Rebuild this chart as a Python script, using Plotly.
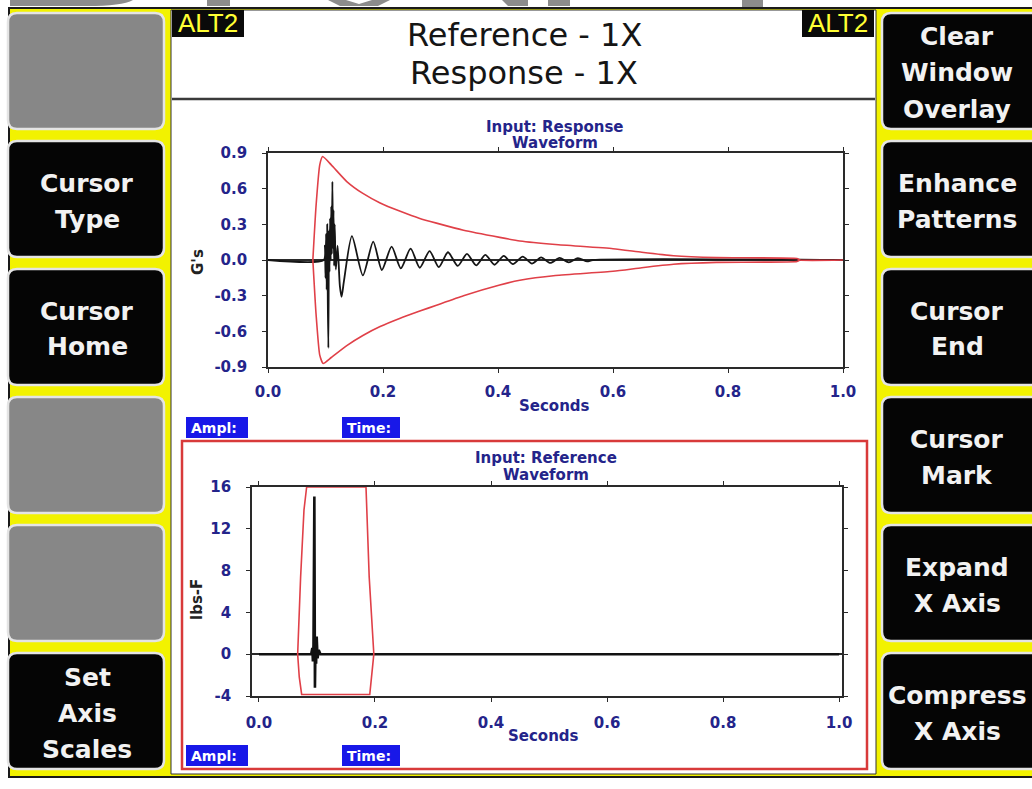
import plotly.graph_objects as go

W, H = 1032, 789

# ---------------- data ----------------
x_tick_vals = [0.0, 0.2, 0.4, 0.6, 0.8, 1.0]
x_tick_text = ["0.0", "0.2", "0.4", "0.6", "0.8", "1.0"]
top_y_tick_vals = [-0.9, -0.6, -0.3, 0.0, 0.3, 0.6, 0.9]
top_y_tick_text = ["-0.9", "-0.6", "-0.3", "0.0", "0.3", "0.6", "0.9"]
bot_y_tick_vals = [-4, 0, 4, 8, 12, 16]
bot_y_tick_text = ["-4", "0", "4", "8", "12", "16"]

# Response waveform (G's vs seconds)
resp_t = [0.0, 0.097, 0.099, 0.100, 0.101, 0.102, 0.103, 0.104, 0.105, 0.106,
          0.107, 0.108, 0.109, 0.110, 0.111, 0.112, 0.113, 0.114, 0.115, 0.116,
          0.118, 0.121, 0.125, 0.128, 0.132, 0.146, 0.165, 0.183, 0.198, 0.215,
          0.231, 0.248, 0.264, 0.281, 0.297, 0.313, 0.330, 0.346, 0.362, 0.378,
          0.394, 0.410, 0.426, 0.443, 0.459, 0.475, 0.491, 0.507, 0.523, 0.539,
          0.555, 0.565, 1.0]
resp_v = [0.0, 0.0, 0.12, -0.15, 0.22, -0.25, 0.30, -0.35, -0.74, 0.25,
          -0.10, 0.35, 0.0, 0.45, 0.05, 0.66, 0.10, 0.42, -0.05, 0.30,
          -0.08, 0.12, -0.22, -0.31, -0.18, 0.20, -0.13, 0.154, -0.084, 0.112,
          -0.07, 0.095, -0.065, 0.075, -0.06, 0.065, -0.05, 0.052, -0.045, 0.043,
          -0.04, 0.035, -0.035, 0.028, -0.03, 0.022, -0.025, 0.018, -0.02, 0.015,
          -0.012, 0.0, 0.0]

# Response envelope (red)
env_up_t = [0.078, 0.0835, 0.090, 0.095, 0.110, 0.137, 0.165, 0.195, 0.230, 0.264,
            0.293, 0.340, 0.403, 0.438, 0.500, 0.600, 0.650, 0.705, 0.780, 0.920,
            0.925, 1.0]
env_up_v = [0.0, 0.45, 0.80, 0.87, 0.80, 0.66, 0.56, 0.48, 0.41, 0.35,
            0.31, 0.25, 0.19, 0.16, 0.13, 0.095, 0.065, 0.036, 0.02, 0.012,
            0.0, 0.0]
env_lo_t = [0.078, 0.0835, 0.090, 0.096, 0.110, 0.137, 0.165, 0.195, 0.230, 0.264,
            0.293, 0.340, 0.403, 0.438, 0.500, 0.600, 0.650, 0.705, 0.780, 0.920,
            0.925]
env_lo_v = [0.0, -0.45, -0.80, -0.87, -0.82, -0.72, -0.635, -0.56, -0.49, -0.43,
            -0.38, -0.30, -0.21, -0.17, -0.13, -0.095, -0.065, -0.036, -0.02, -0.012,
            0.0]

# Reference waveform (lbs-F vs seconds)
ref_t = [0.0, 0.090, 0.092, 0.093, 0.094, 0.0955, 0.0965, 0.0975, 0.0985,
         0.0995, 0.101, 0.103, 0.106, 1.0]
ref_v = [0.0, 0.0, 0.6, -0.7, 0.9, 15.1, -3.2, 1.2, -0.9,
         1.7, -0.4, 0.4, 0.0, 0.0]

# Reference envelope (red)
ref_env_t = [0.0667, 0.0718, 0.0776, 0.0822, 0.1845, 0.190, 0.198, 0.191,
             0.0736, 0.0695, 0.0667]
ref_env_v = [0.0, 7.4, 13.8, 16.0, 16.0, 7.4, 0.0, -3.85,
             -3.85, -2.2, 0.0]

left_buttons = [[], ["Cursor", "Type"], ["Cursor", "Home"], [], [],
                ["Set", "Axis", "Scales"]]
right_buttons = [["Clear", "Window", "Overlay"], ["Enhance", "Patterns"],
                 ["Cursor", "End"], ["Cursor", "Mark"], ["Expand", "X Axis"],
                 ["Compress", "X Axis"]]

# ---------------- helpers ----------------
NAVY = "#24248a"
RED = "#e04048"
YELLOW = "#f2f200"


def px(x):
    return x / W


def py(y):
    return 1 - y / H


def rrect(x0, y0, x1, y1, r, fill, line, lw):
    p = (f"M {px(x0 + r)},{py(y0)} L {px(x1 - r)},{py(y0)} "
         f"Q {px(x1)},{py(y0)} {px(x1)},{py(y0 + r)} "
         f"L {px(x1)},{py(y1 - r)} Q {px(x1)},{py(y1)} {px(x1 - r)},{py(y1)} "
         f"L {px(x0 + r)},{py(y1)} Q {px(x0)},{py(y1)} {px(x0)},{py(y1 - r)} "
         f"L {px(x0)},{py(y0 + r)} Q {px(x0)},{py(y0)} {px(x0 + r)},{py(y0)} Z")
    return dict(type="path", xref="paper", yref="paper", path=p,
                fillcolor=fill, line=dict(color=line, width=lw), layer="below")


def rect(x0, y0, x1, y1, fill, line=None, lw=0, layer="below"):
    return dict(type="rect", xref="paper", yref="paper",
                x0=px(x0), x1=px(x1), y0=py(y1), y1=py(y0),
                fillcolor=fill,
                line=dict(color=line or fill, width=lw), layer=layer)


def poly(pts, fill):
    p = "M " + " L ".join(f"{px(a)},{py(b)}" for a, b in pts) + " Z"
    return dict(type="path", xref="paper", yref="paper", path=p,
                fillcolor=fill, line=dict(width=0), layer="below")


def ann(text, x, y, size, color, bold=False, family="DejaVu Sans",
        xanchor="center", angle=0):
    return dict(text=text, x=px(x), y=py(y), xref="paper", yref="paper",
                xanchor=xanchor, yanchor="middle", showarrow=False,
                textangle=angle,
                font=dict(family=family, size=size, color=color,
                          weight="bold" if bold else "normal"))


# ---------------- figure ----------------
fig = go.Figure()

fig.add_trace(go.Scatter(x=resp_t, y=resp_v, mode="lines",
                         line=dict(color="#151515", width=1.8, shape="spline",
                                   smoothing=0.7),
                         xaxis="x", yaxis="y", hoverinfo="skip"))
fig.add_trace(go.Scatter(x=env_up_t, y=env_up_v, mode="lines",
                         line=dict(color=RED, width=1.6, shape="spline",
                                   smoothing=0.5),
                         xaxis="x", yaxis="y", hoverinfo="skip"))
fig.add_trace(go.Scatter(x=env_lo_t, y=env_lo_v, mode="lines",
                         line=dict(color=RED, width=1.6, shape="spline",
                                   smoothing=0.5),
                         xaxis="x", yaxis="y", hoverinfo="skip"))
fig.add_trace(go.Scatter(x=ref_t, y=ref_v, mode="lines",
                         line=dict(color="#111", width=2.6),
                         xaxis="x2", yaxis="y2", hoverinfo="skip"))
fig.add_trace(go.Scatter(x=ref_env_t, y=ref_env_v, mode="lines",
                         line=dict(color=RED, width=1.6),
                         xaxis="x2", yaxis="y2", hoverinfo="skip"))

tickfont = dict(family="DejaVu Sans", size=15, color=NAVY, weight="bold")
common = dict(showline=True, linecolor="#2a2a2a", linewidth=1.6,
              mirror="allticks", ticks="outside", ticklen=4,
              tickcolor="#2a2a2a", tickwidth=1.3, showgrid=False,
              tickfont=tickfont, automargin=False, fixedrange=True)

fig.update_layout(
    width=W, height=H,
    margin=dict(l=0, r=0, t=0, b=0),
    paper_bgcolor="white", plot_bgcolor="white",
    showlegend=False,
    xaxis=dict(domain=[268 / W, 843 / W], range=[0, 1], anchor="y",
               tickvals=x_tick_vals, ticktext=x_tick_text, zeroline=False,
               ticklabelstandoff=6, **common),
    yaxis=dict(domain=[1 - 367 / H, 1 - 153 / H], range=[-0.9, 0.9],
               anchor="x", tickvals=top_y_tick_vals, ticktext=top_y_tick_text,
               zeroline=True, zerolinecolor="#2a2a2a", zerolinewidth=1.6,
               ticklabelstandoff=12, **common),
    xaxis2=dict(domain=[252 / W, 842 / W], range=[-0.012, 1.005], anchor="y2",
                tickvals=x_tick_vals, ticktext=x_tick_text, zeroline=False,
                ticklabelstandoff=8, **common),
    yaxis2=dict(domain=[1 - 696 / H, 1 - 487 / H], range=[-4, 16],
                anchor="x2", tickvals=bot_y_tick_vals, ticktext=bot_y_tick_text,
                zeroline=True, zerolinecolor="#2a2a2a", zerolinewidth=1.6,
                ticklabelstandoff=12, **common),
)

shapes = []
# watermark fragments at very top
shapes.append(dict(type="path", xref="paper", yref="paper",
                   path=(f"M {px(10)},{py(0)} L {px(133)},{py(0)} "
                         f"Q {px(122)},{py(6)} {px(87)},{py(6)} "
                         f"L {px(10)},{py(6)} Z"),
                   fillcolor="#8c8c8c", line=dict(width=0), layer="below"))
shapes.append(rect(207, 0, 230, 6, "#8c8c8c"))
shapes.append(poly([(328, 0), (346, 0), (359, 4), (372, 0), (390, 0),
                    (378, 6), (340, 6)], "#8c8c8c"))
shapes.append(poly([(502, 0), (528, 0), (528, 6), (508, 6)], "#8c8c8c"))
shapes.append(rect(548, 0, 570, 6, "#8c8c8c"))
shapes.append(rect(742, 0, 763, 7, "#8c8c8c"))

# screen background
shapes.append(rect(9, 8, 1034, 777, YELLOW, "#1a1a1a", 2))
# centre panel
shapes.append(rect(171, 10, 876, 774, "white", "#333333", 1))
# header bottom line
shapes.append(dict(type="line", xref="paper", yref="paper",
                   x0=px(172), x1=px(875), y0=py(99), y1=py(99),
                   line=dict(color="#3a3a3a", width=2.5), layer="below"))
# ALT2 boxes
shapes.append(rect(172, 10, 244, 37, "#0a0a0a"))
shapes.append(rect(802, 10, 874, 37, "#0a0a0a"))

# buttons
for i in range(6):
    top = 13 + 128 * i
    bot = top + 116
    lab = left_buttons[i]
    shapes.append(rrect(8, top, 164, bot, 9,
                        "#050505" if lab else "#878787", "#e4e4e4", 2.5))
    shapes.append(rrect(882, top, 1045, bot, 9, "#050505", "#e4e4e4", 2.5))

# Ampl / Time boxes
for yb in (417, 745):
    shapes.append(rect(186, yb, 248, yb + 21, "#1818e8", layer="above"))
    shapes.append(rect(342, yb, 400, yb + 21, "#1818e8", layer="above"))

# red reference panel box
shapes.append(rect(182, 441, 867, 769, "rgba(0,0,0,0)", "#d83a3a", 2.5,
                   layer="below"))

annotations = []
annotations.append(ann("Reference - 1X", 524, 35, 32, "#151515"))
annotations.append(ann("Response - 1X", 524, 73, 32, "#151515"))
annotations.append(ann("ALT2", 208, 23, 26, "#ffff33", family="Liberation Sans"))
annotations.append(ann("ALT2", 838, 23, 26, "#ffff33", family="Liberation Sans"))

annotations.append(ann("Input: Response", 555, 127, 15, NAVY, bold=True))
annotations.append(ann("Waveform", 555, 143, 15, NAVY, bold=True))
annotations.append(ann("Seconds", 554, 406, 15, NAVY, bold=True))
annotations.append(ann("G's", 198, 262, 15, "#222222", bold=True, angle=-90))

annotations.append(ann("Input: Reference", 546, 458, 15, NAVY, bold=True))
annotations.append(ann("Waveform", 546, 475, 15, NAVY, bold=True))
annotations.append(ann("Seconds", 543, 736, 15, NAVY, bold=True))
annotations.append(ann("lbs-F", 197, 600, 15, "#222222", bold=True, angle=-90))

for yb in (417, 745):
    annotations.append(ann("Ampl:", 189, yb + 10.5, 14, "white", bold=True,
                           xanchor="left"))
    annotations.append(ann("Time:", 345, yb + 10.5, 14, "white", bold=True,
                           xanchor="left"))

for i in range(6):
    cy = 13 + 128 * i + 60
    for col, cx in ((left_buttons, 87), (right_buttons, 957)):
        lines = col[i]
        n = len(lines)
        for j, t in enumerate(lines):
            yy = cy + (j - (n - 1) / 2) * 36
            annotations.append(ann(t, cx, yy, 25, "#f2f2f2", bold=True))

fig.update_layout(shapes=shapes, annotations=annotations)

fig.write_html(
    "out.html",
    config=dict(displayModeBar=False),
    post_script=("document.body.style.margin='0';"
                 "document.body.style.padding='0';"
                 "document.body.style.overflow='hidden';"),
)
